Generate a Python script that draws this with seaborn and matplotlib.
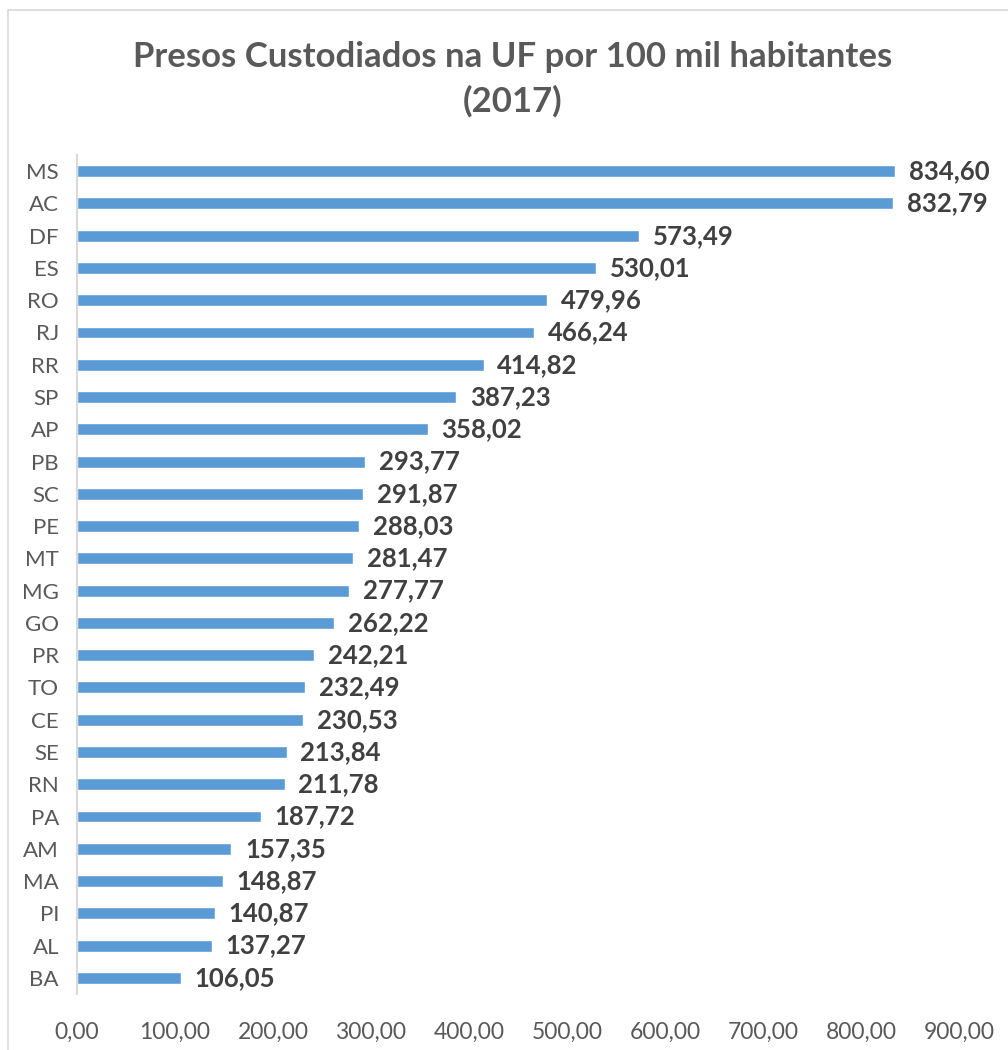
import matplotlib
matplotlib.use("Agg")
import matplotlib.pyplot as plt
import seaborn as sns
import pandas as pd
from matplotlib.patches import Rectangle

states = ["MS", "AC", "DF", "ES", "RO", "RJ", "RR", "SP", "AP", "PB", "SC", "PE", "MT",
          "MG", "GO", "PR", "TO", "CE", "SE", "RN", "PA", "AM", "MA", "PI", "AL", "BA"]
values = [834.60, 832.79, 573.49, 530.01, 479.96, 466.24, 414.82, 387.23, 358.02, 293.77,
          291.87, 288.03, 281.47, 277.77, 262.22, 242.21, 232.49, 230.53, 213.84, 211.78,
          187.72, 157.35, 148.87, 140.87, 137.27, 106.05]
xticks = [0, 100, 200, 300, 400, 500, 600, 700, 800, 900]

df = pd.DataFrame({"uf": states, "v": values})

sns.set_theme(style="white")
plt.rcParams['font.family'] = ['Lato', 'DejaVu Sans']

fig = plt.figure(figsize=(10.08, 10.5), dpi=100)
ax = fig.add_axes([77/1008, 1-994/1050, (959-77)/1008, (994-155)/1050])

sns.barplot(data=df, x="v", y="uf", orient="h", color="#5B9BD5", saturation=1,
            width=0.37, ax=ax)

ax.set_xlim(0, 900)
ax.set_xticks(xticks)
ax.set_xticklabels([f"{t:.2f}".replace(".", ",") for t in xticks])
ax.set_xlabel("")
ax.set_ylabel("")
ax.tick_params(axis="x", labelsize=16.5, colors="#595959", length=0, pad=20)
ax.tick_params(axis="y", labelsize=16, colors="#595959", length=0, pad=13)
for s in ["top", "right", "bottom"]:
    ax.spines[s].set_visible(False)
ax.spines["left"].set_color("#D9D9D9")
ax.spines["left"].set_linewidth(1.5)

for i, v in enumerate(values):
    ax.text(v + 14, i, f"{v:.2f}".replace(".", ","), va="center", ha="left",
            fontsize=18.5, fontweight="bold", color="#404040")

fig.text(513/1008, 1-57/1050, "Presos Custodiados na UF por 100 mil habitantes",
         ha="center", va="center", fontsize=25, fontweight="bold", color="#595959")
fig.text(513/1008, 1-101/1050, "(2017)",
         ha="center", va="center", fontsize=25, fontweight="bold", color="#595959")

fig.patches.append(Rectangle((8/1008, -0.01), 1.1, 1-10/1050+0.01, transform=fig.transFigure,
                             fill=False, edgecolor="#D9D9D9", linewidth=1.2))

fig.savefig("out.png", dpi=100)
